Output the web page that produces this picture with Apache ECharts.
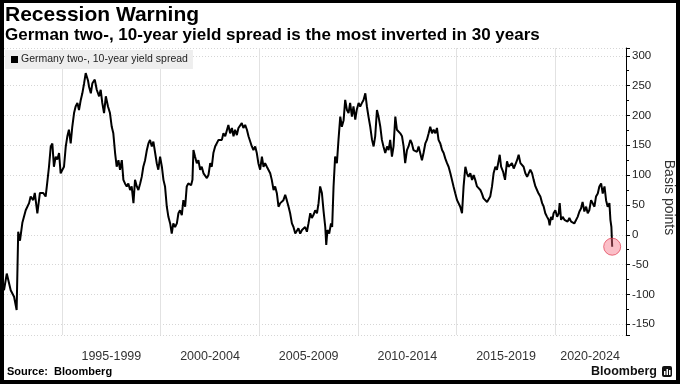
<!DOCTYPE html>
<html><head><meta charset="utf-8">
<script src="https://cdn.jsdelivr.net/npm/echarts@6/dist/echarts.min.js"></script>
<style>html,body{margin:0;padding:0;background:#fff}#c{width:680px;height:384px}</style>
</head><body><div id="c"></div>
<script>
// Decimal years of each reading
const years = [
1992.06,1992.20,1992.40,1992.57,1992.70,1992.73,1992.78,1992.87,1992.99,1993.16,1993.33,1993.41,1993.54,1993.62,1993.75,1993.88,
1994.05,1994.17,1994.25,1994.34,1994.43,1994.51,1994.59,1994.68,1994.76,1994.85,1994.93,1995.02,1995.10,1995.19,1995.27,1995.35,
1995.44,1995.52,1995.61,1995.69,1995.78,1995.86,1995.95,1996.03,1996.12,1996.20,1996.24,1996.32,1996.37,1996.46,1996.54,1996.66,
1996.76,1996.88,1996.96,1997.04,1997.13,1997.22,1997.33,1997.43,1997.52,1997.60,1997.69,1997.77,1997.86,1997.94,1998.03,1998.11,
1998.19,1998.28,1998.36,1998.45,1998.53,1998.62,1998.70,1998.79,1998.87,1998.96,1999.04,1999.12,1999.21,1999.30,1999.38,1999.46,
1999.55,1999.63,1999.72,1999.80,1999.88,1999.97,2000.06,2000.14,2000.22,2000.31,2000.39,2000.48,2000.56,2000.64,2000.73,2000.82,
2000.90,2000.98,2001.07,2001.15,2001.24,2001.32,2001.40,2001.54,2001.61,2001.66,2001.74,2001.83,2001.91,2002.00,2002.08,2002.17,
2002.25,2002.34,2002.42,2002.51,2002.59,2002.67,2002.76,2002.84,2002.93,2003.01,2003.10,2003.18,2003.27,2003.35,2003.43,2003.52,
2003.61,2003.69,2003.77,2003.86,2003.94,2004.03,2004.11,2004.19,2004.28,2004.37,2004.45,2004.53,2004.62,2004.70,2004.79,2004.87,
2004.95,2005.04,2005.13,2005.21,2005.29,2005.38,2005.46,2005.55,2005.63,2005.72,2005.80,2005.89,2005.97,2006.06,2006.14,2006.22,
2006.31,2006.39,2006.48,2006.56,2006.65,2006.73,2006.82,2006.90,2006.98,2007.07,2007.16,2007.24,2007.32,2007.41,2007.49,2007.58,
2007.66,2007.74,2007.83,2007.92,2008.00,2008.08,2008.17,2008.25,2008.34,2008.39,2008.45,2008.54,2008.63,2008.69,2008.76,2008.84,
2008.93,2009.01,2009.10,2009.18,2009.27,2009.35,2009.44,2009.52,2009.60,2009.69,2009.77,2009.86,2009.94,2010.03,2010.11,2010.20,
2010.28,2010.37,2010.45,2010.53,2010.62,2010.71,2010.79,2010.87,2010.96,2011.04,2011.13,2011.21,2011.29,2011.38,2011.47,2011.55,
2011.63,2011.72,2011.80,2011.89,2011.97,2012.05,2012.14,2012.23,2012.31,2012.39,2012.48,2012.56,2012.65,2012.73,2012.81,2012.90,
2012.99,2013.07,2013.15,2013.24,2013.32,2013.41,2013.49,2013.58,2013.66,2013.75,2013.83,2013.92,2014.00,2014.08,2014.17,2014.26,
2014.34,2014.42,2014.51,2014.59,2014.68,2014.76,2014.84,2014.93,2015.02,2015.10,2015.18,2015.27,2015.35,2015.44,2015.52,2015.60,
2015.69,2015.78,2015.86,2015.94,2016.03,2016.11,2016.20,2016.28,2016.36,2016.45,2016.54,2016.62,2016.70,2016.79,2016.87,2016.96,
2017.04,2017.13,2017.18,2017.25,2017.35,2017.45,2017.55,2017.63,2017.72,2017.80,2017.89,2017.97,2018.06,2018.14,2018.23,2018.31,
2018.39,2018.48,2018.57,2018.65,2018.73,2018.82,2018.90,2018.99,2019.07,2019.15,2019.24,2019.33,2019.41,2019.49,2019.58,2019.66,
2019.71,2019.78,2019.85,2019.91,2020.00,2020.09,2020.17,2020.22,2020.29,2020.37,2020.46,2020.54,2020.62,2020.71,2020.80,2020.88,
2020.96,2021.05,2021.13,2021.22,2021.30,2021.38,2021.47,2021.56,2021.64,2021.72,2021.81,2021.89,2021.98,2022.06,2022.15,2022.23,
2022.32,2022.40,2022.49,2022.57,2022.65,2022.74,2022.79,2022.84,2022.88
];
// Spread, basis points
const spread = [
-93,-65,-93,-104,-126,-128,5,-10,20,41,53,64,58,70,36,70,
70,64,87,114,148,153,114,131,126,137,103,109,114,148,165,176,
153,181,204,215,221,209,226,237,254,271,274,258,248,237,254,260,
243,232,243,221,204,232,215,204,181,170,137,114,125,109,125,92,
86,81,86,75,81,53,92,81,75,86,97,114,125,142,153,159,
148,156,137,120,109,131,114,92,81,47,30,19,2,19,13,19,
36,41,33,58,47,81,86,83,92,142,131,120,125,109,114,103,
100,95,100,120,114,137,148,145,159,162,159,170,165,162,184,170,
179,165,176,167,179,181,187,179,184,176,165,162,148,142,148,137,
120,109,131,114,120,114,111,103,92,75,81,69,47,53,50,58,
67,58,47,36,19,13,2,5,11,2,8,5,13,5,19,36,
28,33,41,36,53,81,70,41,13,-17,8,2,19,13,81,131,
120,159,198,181,192,226,209,204,221,198,215,193,210,221,215,221,
226,237,215,198,181,159,148,165,209,198,181,159,148,137,148,142,
159,131,148,198,176,178,170,165,148,120,142,148,159,153,142,145,
139,148,137,125,137,153,159,170,181,170,176,170,179,159,153,142,
137,128,120,114,103,92,81,69,58,61,47,36,81,114,103,97,
103,92,100,92,81,83,75,69,61,64,55,58,64,81,103,114,
109,125,134,114,106,92,123,114,117,120,111,109,125,134,120,117,
114,103,97,100,109,103,92,81,75,69,64,53,47,36,30,25,
16,30,25,36,41,30,36,53,25,30,25,28,22,28,22,25,
19,19,30,39,44,55,39,47,36,41,58,53,47,64,69,81,
86,69,81,58,47,53,25,13,-20
];
const seriesName = 'Germany two-, 10-year yield spread';
const gridYears = [1995, 2000, 2005, 2010, 2015, 2020];
const periodLabels = ['1995-1999', '2000-2004', '2005-2009', '2010-2014', '2015-2019', '2020-2024'];
const periodLabelPos = [1997.5, 2002.5, 2007.5, 2012.5, 2017.5, 2021.76];

const lineData = years.map((y, i) => [y, spread[i]]);
const last = lineData[lineData.length - 1];
const F = '"Liberation Sans", Arial, sans-serif';

const chart = echarts.init(document.getElementById('c'), null, {renderer: 'canvas'});
chart.setOption({
  animation: false,
  backgroundColor: '#fff',
  grid: {left: 4, right: 54, top: 48, bottom: 49, containLabel: false, outerBoundsMode: 'none'},
  legend: {
    data: [seriesName], left: 5, top: 50, icon: 'rect', itemWidth: 7, itemHeight: 7, itemGap: 4,
    padding: [4, 5, 4, 6], backgroundColor: '#eeeeee', borderRadius: 0,
    textStyle: {fontFamily: F, fontSize: 10.5, color: '#222', padding: [0, 0, 0, -2]}
  },
  xAxis: {
    type: 'value', min: 1992.06, max: 2023.58,
    axisLine: {show: false},
    axisTick: {show: false, customValues: gridYears},
    splitLine: {show: true, lineStyle: {color: '#e2e2e2', width: 1, type: 'solid'}},
    axisLabel: {
      customValues: periodLabelPos, margin: 15, color: '#333', fontFamily: F, fontSize: 12.5,
      formatter: v => { const i = periodLabelPos.indexOf(v); return i >= 0 ? periodLabels[i] : ''; }
    }
  },
  yAxis: {
    type: 'value', position: 'right', min: -168, max: 313, splitNumber: 10,
    name: 'Basis points', nameLocation: 'middle', nameRotate: -90, nameGap: 36, nameMoveOverlap: false,
    nameTextStyle: {fontFamily: F, fontSize: 14, color: '#333', padding: [0, 0, 0, 12]},
    axisLine: {show: true, onZero: false, lineStyle: {color: '#000', width: 1}},
    axisTick: {show: true, inside: false, length: 4, lineStyle: {color: '#000'}},
    minorTick: {show: true, splitNumber: 2, length: 3, lineStyle: {color: '#000'}},
    splitLine: {show: true, lineStyle: {color: '#d6d6d6', type: [1, 2], width: 1}},
    axisLabel: {margin: 6, color: '#222', fontFamily: F, fontSize: 11.5, showMinLabel: false, showMaxLabel: false,
      formatter: v => (v % 50 === 0 ? String(v) : '')}
  },
  series: [
    {name: seriesName, type: 'line', data: lineData, showSymbol: false, symbol: 'none',
     lineStyle: {color: '#000', width: 2}, itemStyle: {color: '#000'}, z: 3},
    {name: 'latest', type: 'scatter', data: [last], symbolSize: 17, z: 5,
     itemStyle: {color: 'rgba(245,110,130,0.55)', borderColor: 'rgba(225,60,80,0.9)', borderWidth: 1}}
  ],
  graphic: [
    {type: 'text', x: 5, y: 15, style: {text: 'Recession Warning', font: 'bold 21px ' + F, fill: '#000', verticalAlign: 'middle'}},
    {type: 'text', x: 5, y: 35.5, style: {text: 'German two-, 10-year yield spread is the most inverted in 30 years', font: 'bold 17px ' + F, fill: '#000', verticalAlign: 'middle'}},
    {type: 'text', x: 7, y: 372, style: {text: 'Source:  Bloomberg', font: 'bold 11px ' + F, fill: '#000', verticalAlign: 'middle'}},
    {type: 'text', x: 657, y: 372, style: {text: 'Bloomberg', font: 'bold 12.5px ' + F, fill: '#111', align: 'right', verticalAlign: 'middle'}},
    {type: 'rect', shape: {x: 662, y: 366, width: 10, height: 11, r: 2}, style: {fill: '#111'}},
    {type: 'rect', shape: {x: 664, y: 371, width: 1.5, height: 4}, style: {fill: '#fff'}},
    {type: 'rect', shape: {x: 666.5, y: 369, width: 1.5, height: 6}, style: {fill: '#fff'}},
    {type: 'rect', shape: {x: 669, y: 370, width: 1.5, height: 5}, style: {fill: '#fff'}},
    {type: 'rect', shape: {x: 0, y: 0, width: 680, height: 3}, style: {fill: '#000'}, z: 100},
    {type: 'rect', shape: {x: 0, y: 0, width: 4, height: 384}, style: {fill: '#000'}, z: 100},
    {type: 'rect', shape: {x: 676, y: 0, width: 4, height: 384}, style: {fill: '#000'}, z: 100},
    {type: 'rect', shape: {x: 0, y: 380, width: 680, height: 4}, style: {fill: '#000'}, z: 100}
  ]
});
</script></body></html>
